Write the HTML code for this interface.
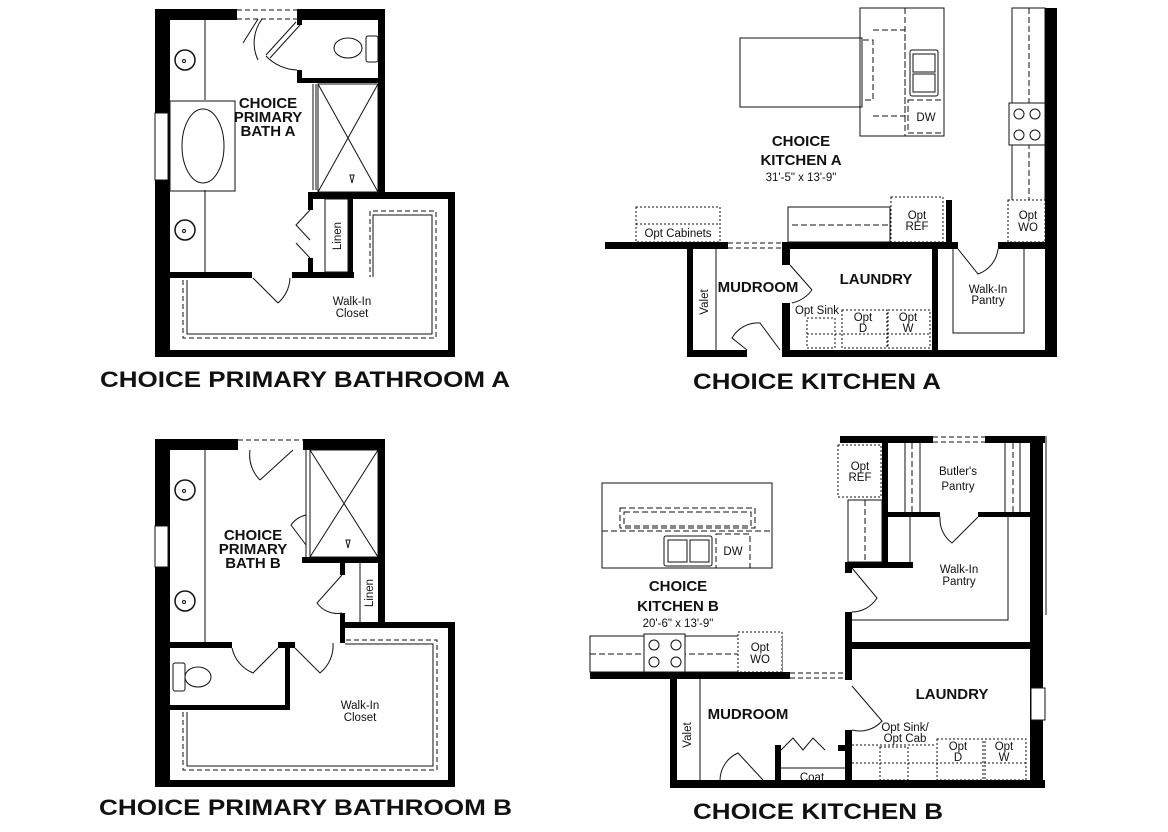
<!DOCTYPE html>
<html><head><meta charset="utf-8"><style>
html,body{margin:0;padding:0;background:#fff;}
svg{display:block;}
text{font-family:"Liberation Sans",sans-serif;fill:#111;stroke:none;}
.t{font-weight:bold;font-size:22px;}
.r{font-weight:bold;font-size:15px;}
.s{font-size:11.5px;}
</style></head><body>
<svg width="1168" height="832" viewBox="0 0 1168 832" xmlns="http://www.w3.org/2000/svg">
<g fill="none" stroke="#111" stroke-width="1">
<!-- ============ BATH A ============ -->
<g fill="#000" stroke="none">
<rect x="155" y="9" width="82" height="11"/>
<rect x="300" y="9" width="85" height="11"/>
<rect x="155" y="9" width="15" height="348"/>
<rect x="378" y="9" width="7" height="183"/>
<rect x="297" y="9" width="5" height="16"/>
<rect x="297" y="70" width="5" height="12"/>
<rect x="297" y="78" width="88" height="5"/>
<rect x="308" y="192" width="147" height="7"/>
<rect x="448" y="192" width="7" height="165"/>
<rect x="155" y="350" width="300" height="7"/>
<rect x="170" y="272" width="82" height="6"/>
<rect x="292" y="272" width="62" height="6"/>
<rect x="308" y="192" width="5" height="18"/>
<rect x="308" y="258" width="5" height="20"/>
<rect x="348" y="192" width="5" height="86"/>
</g>
<rect x="155" y="113" width="13" height="67" fill="#fff"/>
<line x1="237" y1="10" x2="300" y2="10" stroke-dasharray="5,3"/>
<line x1="237" y1="19" x2="300" y2="19" stroke-dasharray="5,3"/>
<line x1="205" y1="20" x2="205" y2="100"/><line x1="205" y1="190" x2="205" y2="272"/>
<rect x="170" y="101" width="65" height="90"/>
<ellipse cx="203" cy="146" rx="21" ry="37"/>
<circle cx="185" cy="60" r="10" stroke-width="1.5"/><circle cx="184" cy="61" r="1.5"/>
<circle cx="185" cy="230" r="10" stroke-width="1.5"/><circle cx="184" cy="231" r="1.5"/>
<ellipse cx="348" cy="48" rx="14" ry="10"/><rect x="366" y="36" width="12" height="26" rx="2"/>
<rect x="318" y="84" width="60" height="108"/>
<line x1="318" y1="84" x2="378" y2="192"/><line x1="378" y1="84" x2="318" y2="192"/>
<line x1="313" y1="84" x2="313" y2="190"/><line x1="316" y1="84" x2="316" y2="190"/>
<path d="M350 175 l4 0 l-2 8 z"/>
<path d="M258 19 l-15 24 M262 19 A40 40 0 0 0 258 60" />
<path d="M296 22 l-30 33 M300 25 l-30 33 M266 56 A45 45 0 0 0 297 70"/>
<path d="M310 210 l-14 15 l14 15 M310 258 l-14-15"/>
<path d="M253 278 l25 25 M278 303 A35 35 0 0 0 290 278"/>
<rect x="325" y="199" width="23" height="73"/>
<text class="s" x="341" y="236" transform="rotate(-90 341 236)" text-anchor="middle">Linen</text>
<path d="M183 280 V338 H436 V211 H370 V277" stroke-dasharray="5,3"/>
<path d="M187 280 V334 H432 V215 H373 V277"/>
<text class="r" x="268" y="108" text-anchor="middle" font-size="14">CHOICE</text>
<text class="r" x="268" y="122" text-anchor="middle" font-size="14">PRIMARY</text>
<text class="r" x="268" y="136" text-anchor="middle" font-size="14">BATH A</text>
<text class="s" x="352" y="305" text-anchor="middle">Walk-In</text>
<text class="s" x="352" y="317" text-anchor="middle">Closet</text>
<text class="t" x="100" y="387" textLength="410" lengthAdjust="spacingAndGlyphs">CHOICE PRIMARY BATHROOM A</text>

<!-- ============ KITCHEN A ============ -->
<g fill="#000" stroke="none">
<rect x="1045" y="8" width="12" height="349"/>
<rect x="605" y="242" width="123" height="7"/>
<rect x="782" y="242" width="166" height="7"/>
<rect x="946" y="200" width="6" height="49"/>
<rect x="946" y="242" width="12" height="7"/>
<rect x="998" y="242" width="50" height="7"/>
<rect x="687" y="249" width="6" height="108"/>
<rect x="687" y="350" width="60" height="7"/>
<rect x="782" y="350" width="275" height="7"/>
<rect x="782" y="249" width="8" height="16"/>
<rect x="782" y="303" width="8" height="54"/>
<rect x="932" y="249" width="6" height="108"/>
</g>
<line x1="728" y1="243" x2="782" y2="243" stroke-dasharray="5,3"/>
<line x1="728" y1="248" x2="782" y2="248" stroke-dasharray="5,3"/>
<rect x="740" y="38" width="122" height="69"/>
<rect x="860" y="8" width="84" height="128"/>
<line x1="905" y1="8" x2="905" y2="136" stroke-dasharray="6,3"/>
<path d="M873 30 h32 v86 h-32 M863 40 h10 v60 h-10" stroke-dasharray="6,3"/>
<rect x="910" y="50" width="28" height="46" rx="2"/><rect x="913" y="54" width="22" height="18"/><rect x="913" y="74" width="22" height="18"/>
<rect x="908" y="100" width="36" height="33" stroke-dasharray="6,3"/>
<text class="s" x="926" y="121" text-anchor="middle">DW</text>
<rect x="1012" y="8" width="33" height="234"/>
<line x1="1029" y1="8" x2="1029" y2="242" stroke-dasharray="6,3"/>
<rect x="1009" y="103" width="36" height="42" fill="#fff"/>
<circle cx="1019" cy="114" r="5"/><circle cx="1035" cy="114" r="5"/><circle cx="1019" cy="135" r="5"/><circle cx="1035" cy="135" r="5"/>
<rect x="1008" y="200" width="37" height="42" fill="#fff" stroke-dasharray="2,2"/>
<text class="s" x="1028" y="219" text-anchor="middle">Opt</text><text class="s" x="1028" y="231" text-anchor="middle">WO</text>
<rect x="636" y="207" width="84" height="35" stroke-dasharray="2,2"/>
<line x1="636" y1="224" x2="720" y2="224" stroke-dasharray="2,2"/>
<text class="s" x="678" y="237" text-anchor="middle">Opt Cabinets</text>
<rect x="788" y="207" width="102" height="35"/>
<line x1="792" y1="225" x2="890" y2="225" stroke-dasharray="6,3"/>
<rect x="891" y="197" width="52" height="45" stroke-dasharray="2,2"/>
<text class="s" x="917" y="219" text-anchor="middle">Opt</text><text class="s" x="917" y="230" text-anchor="middle">REF</text>
<line x1="716" y1="249" x2="716" y2="350"/>
<text class="s" x="708" y="302" transform="rotate(-90 708 302)" text-anchor="middle">Valet</text>
<path d="M790 265 l22 25 M812 290 A35 35 0 0 1 792 303"/>
<path d="M747 350 l-15 -12 A30 30 0 0 1 760 323 l20 27"/>
<path d="M958 249 l20 25 A30 30 0 0 0 998 249"/>
<path d="M953 249 V333 H1024 V249"/>
<rect x="842" y="310" width="45" height="38" stroke-dasharray="2,2"/>
<rect x="888" y="310" width="42" height="38" stroke-dasharray="2,2"/>
<rect x="807" y="318" width="28" height="30" stroke-dasharray="2,2"/>
<line x1="807" y1="334" x2="930" y2="334" stroke-dasharray="2,2"/>
<text class="r" x="758" y="292" text-anchor="middle" font-size="13">MUDROOM</text>
<text class="r" x="876" y="284" text-anchor="middle" font-size="13">LAUNDRY</text>
<text class="s" x="817" y="314" text-anchor="middle">Opt Sink</text>
<text class="s" x="863" y="321" text-anchor="middle">Opt</text><text class="s" x="863" y="332" text-anchor="middle">D</text>
<text class="s" x="908" y="321" text-anchor="middle">Opt</text><text class="s" x="908" y="332" text-anchor="middle">W</text>
<text class="s" x="988" y="293" text-anchor="middle">Walk-In</text><text class="s" x="988" y="304" text-anchor="middle">Pantry</text>
<text class="r" x="801" y="146" text-anchor="middle" font-size="16">CHOICE</text>
<text class="r" x="801" y="165" text-anchor="middle" font-size="16">KITCHEN A</text>
<text class="s" x="801" y="181" text-anchor="middle" font-size="12">31'-5" x 13'-9"</text>
<text class="t" x="693" y="389" textLength="248" lengthAdjust="spacingAndGlyphs">CHOICE KITCHEN A</text>

<!-- ============ BATH B ============ -->
<g fill="#000" stroke="none">
<rect x="155" y="439" width="83" height="11"/>
<rect x="303" y="439" width="82" height="11"/>
<rect x="155" y="439" width="15" height="348"/>
<rect x="378" y="439" width="7" height="188"/>
<rect x="302" y="557" width="83" height="6"/>
<rect x="340" y="563" width="5" height="12"/>
<rect x="340" y="613" width="5" height="30"/>
<rect x="343" y="622" width="112" height="6"/>
<rect x="448" y="622" width="7" height="165"/>
<rect x="155" y="780" width="300" height="7"/>
<rect x="170" y="642" width="62" height="6"/>
<rect x="278" y="642" width="17" height="6"/>
<rect x="285" y="642" width="5" height="68"/>
<rect x="170" y="705" width="120" height="5"/>
</g>
<rect x="155" y="526" width="13" height="41" fill="#fff"/>
<line x1="238" y1="440" x2="303" y2="440" stroke-dasharray="5,3"/>
<line x1="205" y1="450" x2="205" y2="642"/>
<circle cx="185" cy="490" r="10" stroke-width="1.5"/><circle cx="184" cy="491" r="1.5"/>
<circle cx="185" cy="601" r="10" stroke-width="1.5"/><circle cx="184" cy="602" r="1.5"/>
<rect x="310" y="450" width="68" height="107"/>
<line x1="310" y1="450" x2="378" y2="557"/><line x1="378" y1="450" x2="310" y2="557"/>
<line x1="306" y1="450" x2="306" y2="557"/>
<path d="M346 540 l4 0 l-2 8 z"/>
<path d="M293 450 l-33 30 M250 450 A35 35 0 0 0 260 480"/>
<path d="M306 545 l-15 -20 A25 25 0 0 1 306 515"/>
<path d="M342 575 l-25 28 A25 25 0 0 0 342 613"/>
<line x1="360" y1="563" x2="360" y2="622"/>
<text class="s" x="373" y="593" transform="rotate(-90 373 593)" text-anchor="middle">Linen</text>
<path d="M278 648 l-25 25 A35 35 0 0 1 232 648"/>
<path d="M295 648 l25 25 A35 35 0 0 0 333 643"/>
<rect x="173" y="663" width="12" height="28" rx="2"/><ellipse cx="198" cy="677" rx="13" ry="10"/>
<path d="M183 712 V770 H437 V640 H345" stroke-dasharray="5,3"/>
<path d="M187 712 V766 H433 V644 H345"/>
<text class="r" x="253" y="540" text-anchor="middle" font-size="14">CHOICE</text>
<text class="r" x="253" y="554" text-anchor="middle" font-size="14">PRIMARY</text>
<text class="r" x="253" y="568" text-anchor="middle" font-size="14">BATH B</text>
<text class="s" x="360" y="709" text-anchor="middle">Walk-In</text>
<text class="s" x="360" y="721" text-anchor="middle">Closet</text>
<text class="t" x="99" y="815" textLength="413" lengthAdjust="spacingAndGlyphs">CHOICE PRIMARY BATHROOM B</text>

<!-- ============ KITCHEN B ============ -->
<g fill="#000" stroke="none">
<rect x="840" y="436" width="93" height="7"/>
<rect x="985" y="436" width="60" height="7"/>
<rect x="1030" y="436" width="13" height="351"/>
<rect x="882" y="437" width="6" height="125"/>
<rect x="845" y="562" width="68" height="6"/>
<rect x="845" y="562" width="7" height="11"/>
<rect x="845" y="612" width="7" height="68"/>
<rect x="845" y="730" width="7" height="57"/>
<rect x="888" y="512" width="52" height="5"/>
<rect x="978" y="512" width="55" height="5"/>
<rect x="852" y="642" width="180" height="7"/>
<rect x="590" y="672" width="200" height="7"/>
<rect x="670" y="672" width="7" height="115"/>
<rect x="670" y="780" width="375" height="8"/>
<rect x="775" y="745" width="6" height="42"/>
<rect x="838" y="745" width="10" height="6"/>
</g>
<line x1="1046" y1="436" x2="1046" y2="615"/>
<rect x="1031" y="688" width="14" height="32" fill="#fff"/>
<line x1="933" y1="437" x2="985" y2="437" stroke-dasharray="5,3"/>
<line x1="933" y1="442" x2="985" y2="442" stroke-dasharray="5,3"/>
<line x1="790" y1="673" x2="845" y2="673" stroke-dasharray="5,3"/>
<line x1="790" y1="678" x2="845" y2="678" stroke-dasharray="5,3"/>
<rect x="838" y="445" width="43" height="52" stroke-dasharray="2,2"/>
<text class="s" x="860" y="470" text-anchor="middle">Opt</text><text class="s" x="860" y="481" text-anchor="middle">REF</text>
<rect x="848" y="500" width="34" height="62"/>
<line x1="865" y1="500" x2="865" y2="562" stroke-dasharray="6,3"/>
<line x1="905" y1="443" x2="905" y2="512"/><line x1="920" y1="443" x2="920" y2="512"/>
<line x1="1005" y1="443" x2="1005" y2="512"/><line x1="1020" y1="443" x2="1020" y2="512"/>
<line x1="912" y1="443" x2="912" y2="512" stroke-dasharray="6,3"/><line x1="1013" y1="443" x2="1013" y2="512" stroke-dasharray="6,3"/>
<line x1="910" y1="517" x2="910" y2="562"/>
<path d="M940 517 A30 30 0 0 0 952 543 l26 -26"/>
<path d="M852 568 l25 30 A30 30 0 0 1 852 612"/>
<path d="M852 620 H1008 V517"/>
<text class="s" x="958" y="475" text-anchor="middle">Butler's</text><text class="s" x="958" y="490" text-anchor="middle">Pantry</text>
<text class="s" x="959" y="573" text-anchor="middle">Walk-In</text><text class="s" x="959" y="585" text-anchor="middle">Pantry</text>
<rect x="602" y="483" width="170" height="85"/>
<line x1="602" y1="531" x2="772" y2="531" stroke-dasharray="6,3"/>
<rect x="620" y="508" width="135" height="20" stroke-dasharray="6,3"/>
<rect x="624" y="512" width="127" height="14" stroke-dasharray="6,3"/>
<rect x="664" y="536" width="48" height="30" rx="2"/><rect x="668" y="540" width="19" height="22"/><rect x="690" y="540" width="19" height="22"/>
<rect x="716" y="534" width="34" height="34" stroke-dasharray="6,3"/>
<text class="s" x="733" y="555" text-anchor="middle">DW</text>
<rect x="590" y="636" width="192" height="36"/>
<line x1="590" y1="654" x2="782" y2="654" stroke-dasharray="6,3"/>
<rect x="644" y="634" width="41" height="38" fill="#fff"/>
<circle cx="654" cy="645" r="5"/><circle cx="676" cy="645" r="5"/><circle cx="654" cy="662" r="5"/><circle cx="676" cy="662" r="5"/>
<rect x="738" y="632" width="44" height="40" fill="#fff" stroke-dasharray="2,2"/>
<text class="s" x="760" y="651" text-anchor="middle">Opt</text><text class="s" x="760" y="663" text-anchor="middle">WO</text>
<text class="r" x="678" y="591" text-anchor="middle" font-size="17">CHOICE</text>
<text class="r" x="678" y="611" text-anchor="middle" font-size="17">KITCHEN B</text>
<text class="s" x="678" y="627" text-anchor="middle" font-size="12">20'-6" x 13'-9"</text>
<line x1="700" y1="679" x2="700" y2="780"/>
<text class="s" x="691" y="735" transform="rotate(-90 691 735)" text-anchor="middle">Valet</text>
<path d="M763 780 l-25 -27 A30 30 0 0 0 720 780"/>
<path d="M781 750 l12 -12 l10 12 l10 -12 l12 12"/>
<line x1="781" y1="768" x2="845" y2="768"/>
<text class="s" x="812" y="781" text-anchor="middle">Coat</text>
<path d="M852 686 l30 35 A30 30 0 0 1 852 730"/>
<text class="r" x="748" y="719" text-anchor="middle" font-size="13">MUDROOM</text>
<text class="r" x="952" y="699" text-anchor="middle" font-size="13">LAUNDRY</text>
<text class="s" x="905" y="731" text-anchor="middle">Opt Sink/</text>
<text class="s" x="905" y="742" text-anchor="middle">Opt Cab</text>
<line x1="852" y1="745" x2="935" y2="745" stroke-dasharray="2,2"/>
<line x1="852" y1="763" x2="1026" y2="763" stroke-dasharray="2,2"/>
<rect x="880" y="747" width="28" height="33" stroke-dasharray="2,2"/>
<rect x="937" y="739" width="46" height="41" stroke-dasharray="2,2"/>
<rect x="985" y="739" width="41" height="41" stroke-dasharray="2,2"/>
<text class="s" x="958" y="750" text-anchor="middle">Opt</text><text class="s" x="958" y="761" text-anchor="middle">D</text>
<text class="s" x="1004" y="750" text-anchor="middle">Opt</text><text class="s" x="1004" y="761" text-anchor="middle">W</text>
<text class="t" x="693" y="819" textLength="250" lengthAdjust="spacingAndGlyphs">CHOICE KITCHEN B</text>
</g>
</svg>
</body></html>
